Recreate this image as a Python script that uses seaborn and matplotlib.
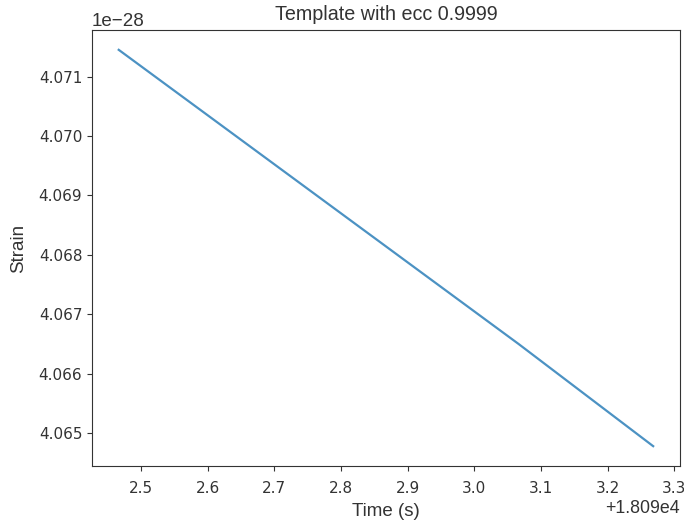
import matplotlib
matplotlib.use("Agg")
import matplotlib.pyplot as plt
import seaborn as sns
import pandas as pd

time_s = [18092.4665, 18092.6665, 18092.8665, 18093.0665, 18093.2685]
strain = [4.07145e-28, 4.06980e-28, 4.06815e-28, 4.06650e-28, 4.06478e-28]
title = "Template with ecc 0.9999"

df = pd.DataFrame({"Time (s)": time_s, "Strain": strain})

plt.rcParams["font.family"] = ["Liberation Sans", "DejaVu Sans"]
plt.rcParams["text.color"] = "#333333"
plt.rcParams["axes.labelcolor"] = "#333333"
plt.rcParams["xtick.color"] = "#333333"
plt.rcParams["ytick.color"] = "#333333"
fig = plt.figure(figsize=(6.84, 5.21), dpi=100)
ax = fig.add_axes([0.1345, 0.1056, 0.8595, 0.8368])
sns.lineplot(data=df, x="Time (s)", y="Strain", ax=ax, color="#1f77b4", alpha=0.8, linewidth=1.6)
ax.set_title(title, fontsize=14.2, pad=7)
ax.set_xlabel("Time (s)", fontsize=13.5, labelpad=5)
ax.set_ylabel("Strain", fontsize=13.5, labelpad=8)
ax.tick_params(labelsize=11)
ax.tick_params(axis="x", pad=7)
for lab in ax.get_xticklabels() + ax.get_yticklabels():
    lab.set_fontfamily("DejaVu Sans")
ax.xaxis.get_offset_text().set_fontsize(12.8)
ax.yaxis.get_offset_text().set_fontsize(13.5)
for s in ax.spines.values():
    s.set_color("#333333")
fig.savefig("out.png", dpi=100)
